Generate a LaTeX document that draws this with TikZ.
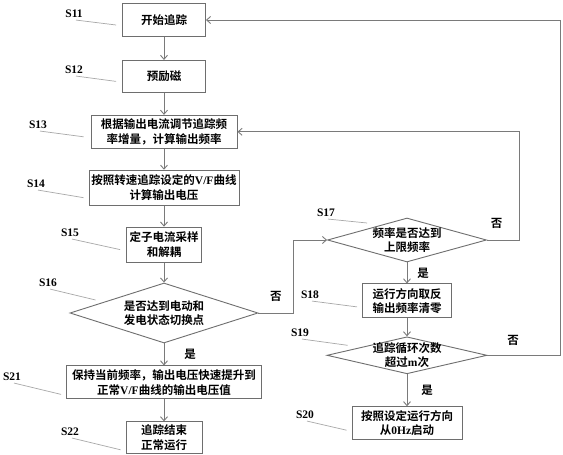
\documentclass[tikz,border=0pt]{standalone}
\usepackage{fontspec}
\setmainfont{Liberation Serif}
\newfontfamily\cjk{Noto Sans CJK SC}[BoldFont={Noto Sans CJK SC Bold}]
\usepackage{xcolor}
\usetikzlibrary{positioning, shapes.geometric, arrows.meta}

\definecolor{linegray}{HTML}{7A7A7A}
\definecolor{boxgray}{HTML}{6E6E6E}
\definecolor{leadgray}{HTML}{A8A8A8}

\begin{document}
\begin{tikzpicture}[x=1pt, y=-1pt]
    % Styles
    \tikzstyle{block} = [rectangle, draw=boxgray, line width=0.9pt, align=center, inner sep=2pt, font={\cjk\bfseries\fontsize{11.5pt}{14.5pt}\selectfont}]
    \tikzstyle{decision} = [diamond, draw=boxgray, line width=0.9pt, align=center, inner sep=-3pt, font={\cjk\bfseries\fontsize{11.5pt}{14.5pt}\selectfont}]
    \tikzstyle{steplbl} = [inner sep=2pt, font={\bfseries\fontsize{11.5pt}{12pt}\selectfont}]
    \tikzstyle{yesno} = [inner sep=1pt, font={\cjk\bfseries\fontsize{11.5pt}{12pt}\selectfont}]
    \tikzstyle{arr} = [draw=linegray, line width=0.9pt, -{Straight Barb[length=4pt, width=7pt]}]
    \tikzstyle{lead} = [draw=leadgray, line width=0.7pt]

    \fill[white] (0,0) rectangle (563,450);

    % Main column
    \node[block, minimum width=83pt, minimum height=33pt] (s11) at (164,20) {开始追踪};
    \node[block, below=23pt of s11, minimum width=83pt, minimum height=32pt] (s12) {预励磁};
    \node[block, below=22pt of s12, minimum width=146pt, minimum height=33pt] (s13) {根据输出电流调节追踪频\\率增量，计算输出频率};
    \node[block, below=21pt of s13, minimum width=150pt, minimum height=35pt] (s14) {按照转速追踪设定的\textrm{V/F}曲线\\计算输出电压};
    \node[block, below=21pt of s14, minimum width=75pt, minimum height=35pt] (s15) {定子电流采样\\和解耦};
    \node[decision, below=20pt of s15, aspect=3.1, minimum width=188pt, minimum height=60pt, inner sep=0pt] (s16) {是否达到电动和\\发电状态切换点};
    \node[block, below=22pt of s16, minimum width=195pt, minimum height=33pt] (s21) {保持当前频率，输出电压快速提升到\\正常\textrm{V/F}曲线的输出电压值};
    \node[block, below=22pt of s21, minimum width=76pt, minimum height=32pt] (s22) {追踪结束\\正常运行};

    % Right column
    \node[decision, aspect=3.6, minimum width=159pt, minimum height=44pt] (s17) at (407,240) {频率是否达到\\上限频率};
    \node[block, below=21pt of s17, minimum width=89pt, minimum height=34pt] (s18) {运行方向取反\\输出频率清零};
    \node[decision, below=18pt of s18, aspect=4.3, minimum width=160pt, minimum height=37pt, inner sep=-4pt] (s19) {追踪循环次数\\超过\textrm{m}次};
    \node[block, below=32pt of s19, minimum width=110pt, minimum height=33pt] (s20) {按照设定运行方向\\从\textrm{0Hz}启动};

    % Step labels
    \node[steplbl] (l11) at (74,14) {S11};
    \node[steplbl] (l12) at (74,70) {S12};
    \node[steplbl] (l13) at (38,125) {S13};
    \node[steplbl] (l14) at (36,184) {S14};
    \node[steplbl] (l15) at (70,233) {S15};
    \node[steplbl] (l16) at (48,283) {S16};
    \node[steplbl] (l21) at (12,377) {S21};
    \node[steplbl] (l22) at (70,432) {S22};
    \node[steplbl] (l17) at (326,213) {S17};
    \node[steplbl] (l18) at (310,295) {S18};
    \node[steplbl] (l19) at (300,333) {S19};
    \node[steplbl] (l20) at (305,415) {S20};

    % Leader lines
    \draw[lead] ([xshift=2pt]l11.south) -- ([shift={(-6pt,-5pt)}]s11.west);
    \draw[lead] ([xshift=2pt]l12.south) -- ([shift={(-6pt,-5pt)}]s12.west);
    \draw[lead] ([xshift=2pt]l13.south) -- ([shift={(-7pt,-5pt)}]s13.west);
    \draw[lead] ([xshift=2pt]l14.south) -- ([shift={(-5pt,-10pt)}]s14.west);
    \draw[lead] ([xshift=2pt]l15.south) -- ([shift={(-6pt,-5pt)}]s15.west);
    \draw[lead] ([xshift=2pt]l16.south) -- ([shift={(26pt,13pt)}]s16.west);
    \draw[lead] ([xshift=2pt]l21.south) -- ([shift={(-5pt,-12pt)}]s21.west);
    \draw[lead] ([xshift=2pt]l22.south) -- ([shift={(-5pt,-12pt)}]s22.west);
    \draw[lead] ([xshift=2pt]l17.south) -- ([shift={(40pt,17pt)}]s17.west);
    \draw[lead] ([xshift=2pt]l18.south) -- ([shift={(-5pt,-6pt)}]s18.west);
    \draw[lead] ([xshift=2pt]l19.south) -- ([shift={(21pt,10pt)}]s19.west);
    \draw[lead] ([xshift=2pt]l20.south) -- ([shift={(-5pt,-7pt)}]s20.west);

    % Connections
    \draw[arr] (s11) -- (s12);
    \draw[arr] (s12) -- (s13);
    \draw[arr] (s13) -- (s14);
    \draw[arr] (s14) -- (s15);
    \draw[arr] (s15) -- (s16);
    \draw[arr] (s16) -- node[yesno, right=19pt] {是} (s21);
    \draw[arr] (s21) -- (s22);
    \draw[arr] (s16.east) -- node[yesno, above=10pt] {否} ++(35,0) |- (s17.west);
    \draw[arr] (s17) -- node[yesno, right=9pt] {是} (s18);
    \draw[arr] (s17.east) -- node[yesno, above=10pt, pos=0.3] {否} ++(32,0) |- (s13.east);
    \draw[arr] (s18) -- (s19);
    \draw[arr] (s19) -- node[yesno, right=13pt] {是} (s20);
    \draw[arr] (s19.east) -- node[yesno, above=8pt, pos=0.35] {否} ++(73,0) |- (s11.east);
\end{tikzpicture}
\end{document}
